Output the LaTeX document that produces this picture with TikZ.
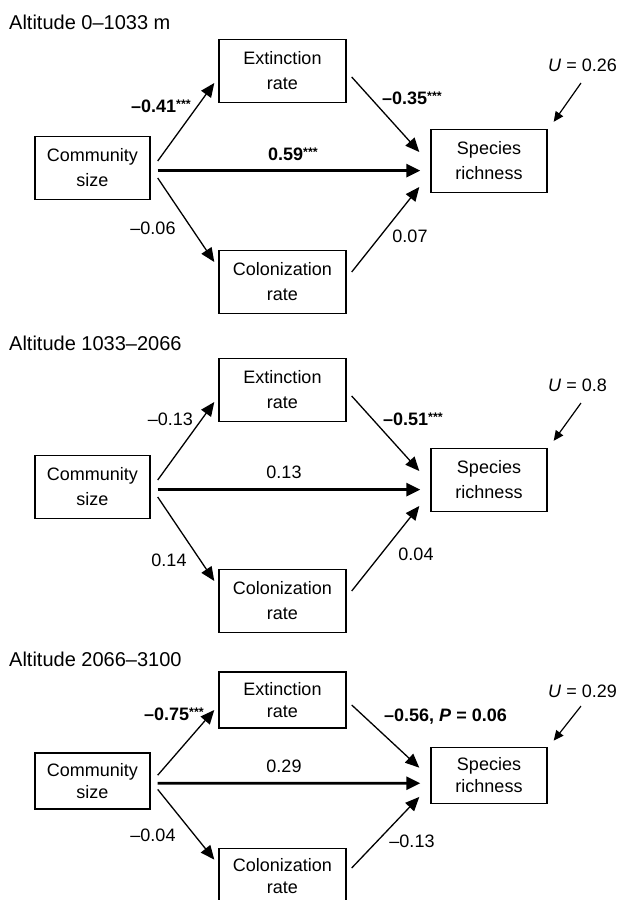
\documentclass[tikz,border=0pt]{standalone}
\usepackage{fontspec}
\setmainfont{Liberation Sans}
\usetikzlibrary{arrows.meta}
\tikzset{
  box/.style={draw, line width=1.4pt, align=center, inner sep=0pt},
  arr/.style={line width=1.3pt, -{Triangle[length=14pt,width=12pt]}},
  thickarr/.style={line width=2.8pt, -{Triangle[length=14pt,width=13pt]}},
  uarr/.style={line width=1.2pt, -{Triangle[length=10pt,width=9pt]}},
  lbl/.style={inner sep=0pt, font=\fontsize{18}{18}\selectfont},
  blbl/.style={lbl, font=\fontsize{18}{18}\selectfont\bfseries},
  ttl/.style={inner sep=0pt, anchor=west, font=\fontsize{20}{20}\selectfont},
}
\newcommand\sigstars{\raisebox{4pt}{\fontsize{12.5}{12.5}\selectfont ***}}
% #1 prefix, #2 scope transform, #3 U text, #4 U y, #5 box height, #6 baselineskip
\newcommand\pathpanel[6]{%
\begin{scope}[#2, box/.append style={minimum height=#5pt, font=\fontsize{18}{#6}\selectfont}]
  \node[box, minimum width=115pt] (#1C) at (92.5,168) {Community\\size};
  \node[box, minimum width=127pt] (#1E) at (282.5,71) {Extinction\\rate};
  \node[box, minimum width=127pt] (#1K) at (282.5,282) {Colonization\\rate};
  \node[box, minimum width=116pt] (#1S) at (489,161) {Species\\richness};
  \draw[arr] ([xshift=7pt,yshift=7pt]#1C.east) -- ([xshift=-4pt,yshift=-12pt]#1E.west);
  \draw[arr] ([xshift=7pt,yshift=-10pt]#1C.east) -- ([xshift=-4pt,yshift=20pt]#1K.west);
  \draw[thickarr] ([xshift=7pt,yshift=-2.6pt]#1C.east) -- ([xshift=-10pt,yshift=-9.6pt]#1S.west);
  \draw[arr] ([xshift=5pt,yshift=-6pt]#1E.east) -- ([xshift=-11pt,yshift=9pt]#1S.west);
  \draw[arr] ([xshift=5pt,yshift=10pt]#1K.east) -- ([xshift=-11pt,yshift=-26pt]#1S.west);
  \node[lbl, anchor=west] (#1U) at (548,#4) {\textit{U} = #3};
  \draw[uarr] ([xshift=33pt,yshift=-18pt]#1U.west) -- ([xshift=6pt,yshift=7pt]#1S.north east);
\end{scope}}
\begin{document}
\begin{tikzpicture}[x=1pt, y=-1pt]
  \useasboundingbox (0,0) rectangle (617,900);
  \clip (0,0) rectangle (617,900);
  % panel 1
  \pathpanel{a}{shift={(0,0)}}{0.26}{65}{63}{25}
  \node[ttl] (at) at (9,22) {Altitude 0–1033 m};
  \node[blbl, anchor=east] (a1) at (191,106) {–0.41\sigstars};
  \node[blbl] (a2) at (293,154) {0.59\sigstars};
  \node[blbl, anchor=west] (a3) at (382,98) {–0.35\sigstars};
  \node[lbl] (a4) at (153,228.5) {–0.06};
  \node[lbl] (a5) at (410,236) {0.07};
  % panel 2
  \pathpanel{b}{shift={(0,319)}}{0.8}{66}{63}{25}
  \begin{scope}[shift={(0,319)}]
    \node[ttl] (bt) at (9,24) {Altitude 1033–2066};
    \node[lbl, anchor=east] (b1) at (193,100.5) {–0.13};
    \node[lbl] (b2) at (284,153) {0.13};
    \node[blbl, anchor=west] (b3) at (383,100.5) {–0.51\sigstars};
    \node[lbl] (b4) at (169,241) {0.14};
    \node[lbl] (b5) at (416,235) {0.04};
  \end{scope}
  % panel 3 (vertically compressed in the reference)
  \pathpanel{c}{shift={(0,640.6)}, yscale=0.836}{0.29}{60.3}{56}{22}
  \begin{scope}[shift={(0,640.6)}, yscale=0.836]
    \node[ttl] (ct) at (9,22) {Altitude 2066–3100};
    \node[blbl, anchor=east] (c1) at (204,87.8) {–0.75\sigstars};
    \node[lbl] (c2) at (284,150) {0.29};
    \node[blbl, anchor=west] (c3) at (384,91.4) {–0.56, \textit{P} = 0.06};
    \node[lbl] (c4) at (153,232.5) {–0.04};
    \node[lbl] (c5) at (412,239.7) {–0.13};
  \end{scope}
\end{tikzpicture}
\end{document}
